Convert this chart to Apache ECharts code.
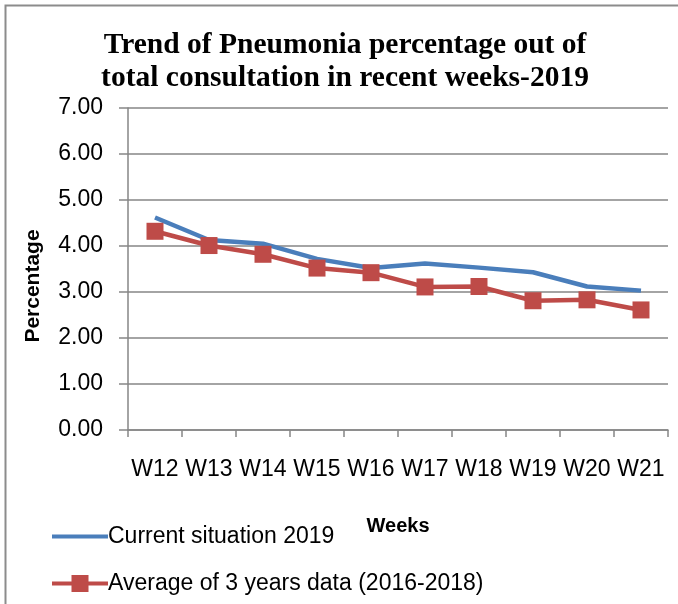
<!DOCTYPE html>
<html>
<head>
<meta charset="utf-8">
<script src="https://cdn.jsdelivr.net/npm/echarts@6/dist/echarts.min.js"></script>
<style>
html, body { margin: 0; padding: 0; background: #fff; }
#main { width: 678px; height: 604px; }
</style>
</head>
<body>
<div id="main"></div>
<script>
var weeks = ["W12", "W13", "W14", "W15", "W16", "W17", "W18", "W19", "W20", "W21"];
var current2019 = [4.62, 4.13, 4.05, 3.72, 3.52, 3.62, 3.53, 3.43, 3.12, 3.03];
var avg3years = [4.32, 4.01, 3.82, 3.52, 3.42, 3.11, 3.12, 2.81, 2.83, 2.61];

var labelFont = "Liberation Sans";
// legend glyphs: M points pad the box so the line keeps its thickness
var lineIcon = "path://M0,0 M0,22 M0,9 L56,9 L56,13 L0,13 Z";
var lineRectIcon = "path://M0,0 M0,22 M0,9 L56,9 L56,13 L0,13 Z M19.5,2.5 L36.5,2.5 L36.5,19.5 L19.5,19.5 Z";

var chart = echarts.init(document.getElementById("main"));
chart.setOption({
    animation: false,
    backgroundColor: "#fff",
    graphic: [{
        type: "rect",
        shape: { x: 5.5, y: 5.5, width: 700, height: 700 },
        style: { fill: null, stroke: "#8c8c8c", lineWidth: 2 }
    }],
    title: {
        text: "Trend of Pneumonia percentage out of\ntotal consultation in recent weeks-2019",
        left: 340,
        top: 24,
        textAlign: "center",
        textStyle: {
            fontFamily: "Liberation Serif",
            fontWeight: "bold",
            fontSize: 29.5,
            lineHeight: 33,
            color: "#000"
        }
    },
    legend: {
        orient: "vertical",
        left: 47,
        top: 520,
        itemGap: 24,
        itemWidth: 56,
        itemHeight: 22,
        textStyle: { fontFamily: labelFont, fontSize: 23, color: "#000", padding: [0, 0, 0, -5] },
        data: [
            { name: "Current situation 2019", icon: lineIcon },
            { name: "Average of 3 years data (2016-2018)", icon: lineRectIcon }
        ]
    },
    grid: { left: 128, right: 10, top: 108, bottom: 174 },
    xAxis: {
        type: "category",
        data: weeks,
        name: "Weeks",
        nameLocation: "middle",
        nameGap: 86,
        nameTextStyle: { fontFamily: labelFont, fontWeight: "bold", fontSize: 20, color: "#000" },
        axisLine: { lineStyle: { color: "#868686", width: 1.5 } },
        axisTick: { show: true, alignWithLabel: false, length: 7, lineStyle: { color: "#868686", width: 1.5 } },
        axisLabel: { fontFamily: labelFont, fontSize: 23, color: "#000", margin: 28, interval: 0 }
    },
    yAxis: {
        type: "value",
        min: 0,
        max: 7,
        interval: 1,
        name: "Percentage",
        nameLocation: "middle",
        nameGap: 84,
        nameRotate: 90,
        nameTextStyle: { fontFamily: labelFont, fontWeight: "bold", fontSize: 21, color: "#000", padding: [0, 34, 0, 0] },
        axisLine: { show: true, lineStyle: { color: "#868686", width: 1.5 } },
        axisTick: { show: true, length: 9, lineStyle: { color: "#868686", width: 1.5 } },
        axisLabel: {
            fontFamily: labelFont, fontSize: 23, color: "#000", margin: 25,
            formatter: function (v) { return v.toFixed(2); }
        },
        splitLine: { lineStyle: { color: "#868686", width: 1.5 } }
    },
    series: [{
        name: "Current situation 2019",
        type: "line",
        data: current2019,
        symbol: "none",
        color: "#4a7ebb",
        lineStyle: { width: 4.5, color: "#4a7ebb" }
    }, {
        name: "Average of 3 years data (2016-2018)",
        type: "line",
        data: avg3years,
        symbol: "rect",
        symbolSize: 17,
        color: "#be4b48",
        lineStyle: { width: 4.5, color: "#be4b48" },
        itemStyle: { color: "#be4b48" }
    }]
});
</script>
</body>
</html>
